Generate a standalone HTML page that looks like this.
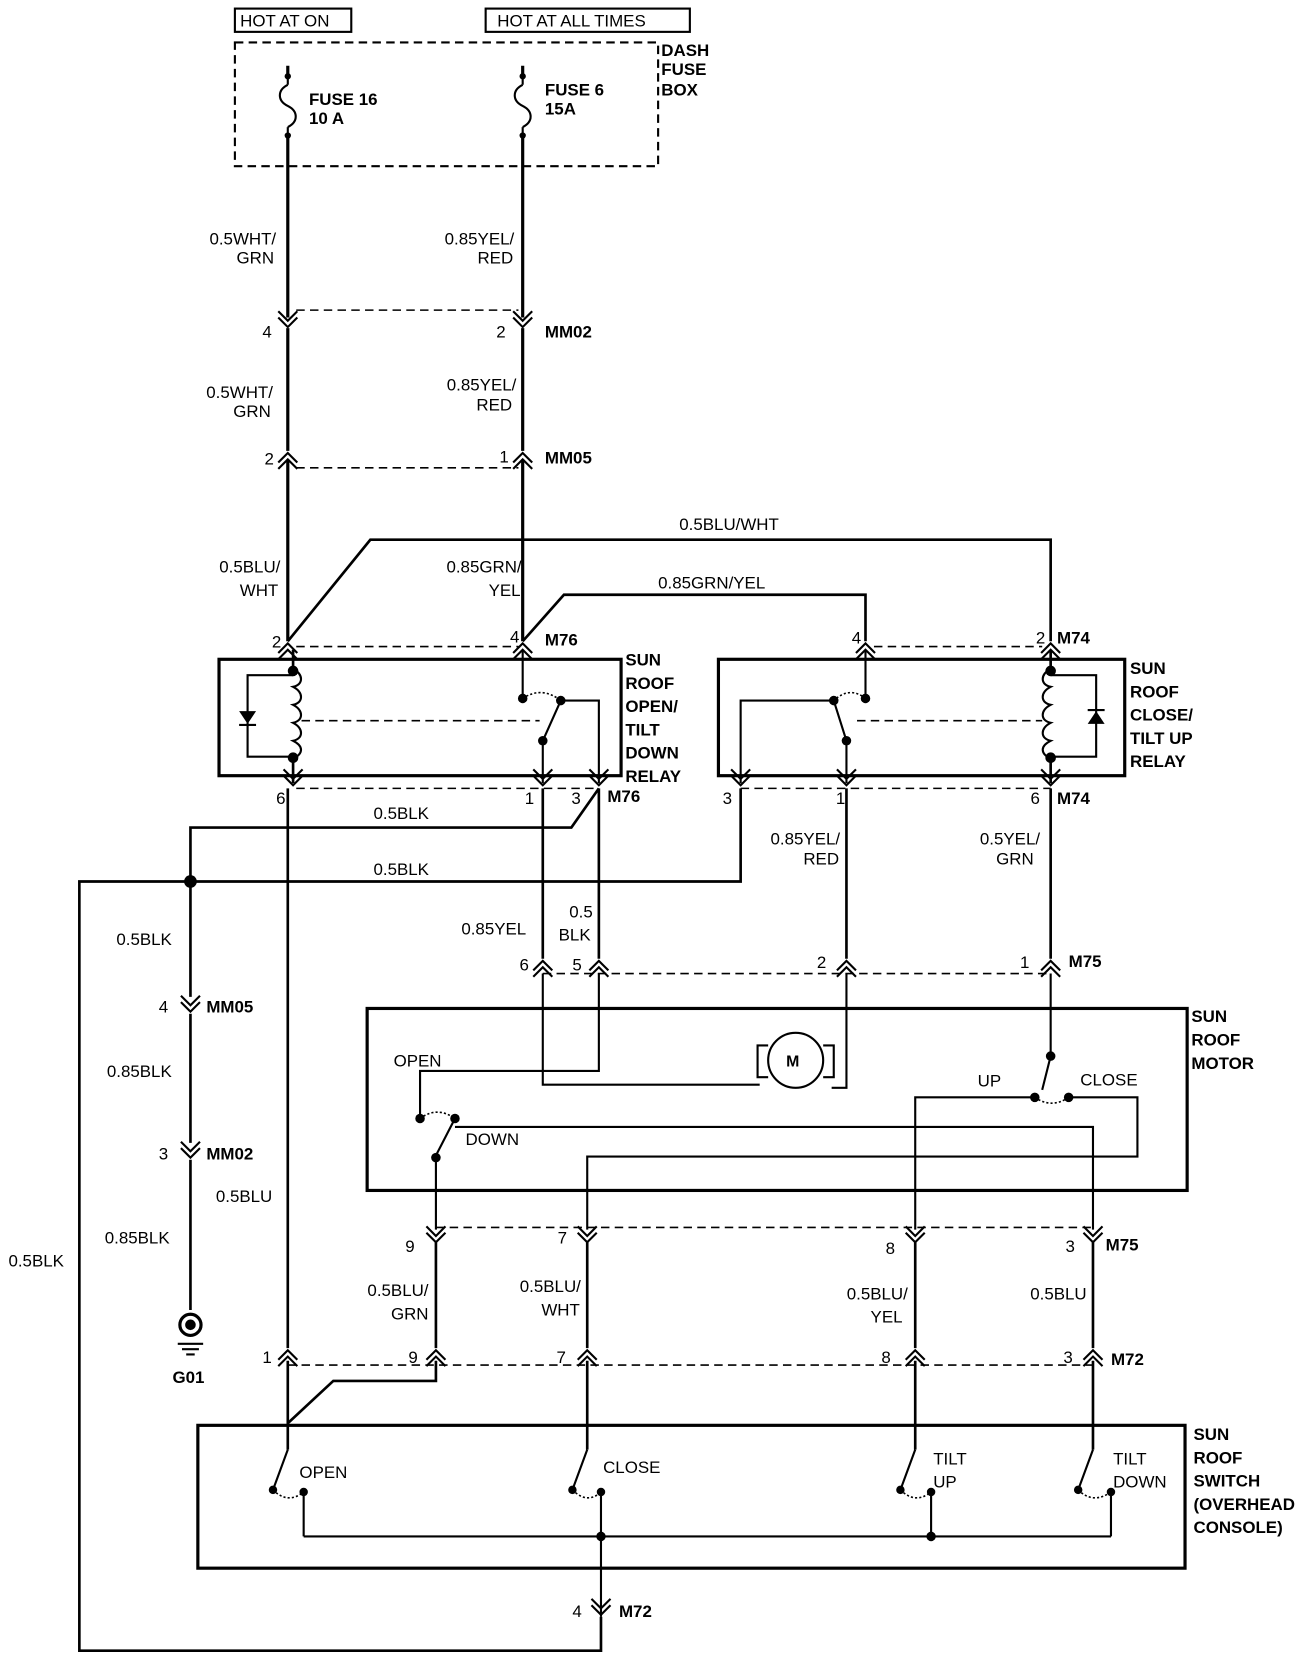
<!DOCTYPE html>
<html><head><meta charset="utf-8"><style>
html,body{margin:0;padding:0;background:#fff;}
svg{display:block;}
text{font-family:"Liberation Sans",Arial,sans-serif;font-size:16px;fill:#000;}
.b{font-weight:bold;}
.r{text-anchor:end;}
</style></head><body>
<svg width="1312" height="1654" viewBox="0 0 1240 1563" xmlns="http://www.w3.org/2000/svg">
<defs>
<g id="up"><path d="M-9,5 L0,-4 L9,5 M-9,11 L0,2 L9,11" fill="none" stroke="#000" stroke-width="2"/></g>
<g id="dn"><path d="M-9,-5 L0,4 L9,-5 M-9,-11 L0,-2 L9,-11" fill="none" stroke="#000" stroke-width="2"/></g>
</defs>
<g fill="none" stroke="#000" stroke-width="3">
<!-- header boxes -->
<rect x="222" y="8" width="110" height="22" stroke-width="2"/>
<rect x="459" y="8" width="193" height="22" stroke-width="2"/>
<rect x="222" y="40" width="400" height="117" stroke-width="2" stroke-dasharray="8,5"/>
<!-- fuse wires -->
<path d="M272,62 V74 M272,126 V300 M494,62 V74 M494,126 V300"/>
<path d="M272,80 c-10,5 -10,15 0,20 c10,5 10,15 0,20" stroke-width="2"/>
<path d="M494,80 c-10,5 -10,15 0,20 c10,5 10,15 0,20" stroke-width="2"/>
<path d="M272,74 V80 M272,120 V126 M494,74 V80 M494,120 V126" stroke-width="2"/>
<!-- between MM02 and MM05 -->
<path d="M272,310 V426 M494,310 V426"/>
<path d="M272,434 V606 M494,434 V606"/>
<!-- BLU/WHT and GRN/YEL -->
<path d="M272,606 L350,510 H993 V606" stroke-width="2.5"/>
<path d="M494,606 L533,562 H818 V606" stroke-width="2.5"/>
<!-- relay boxes -->
<rect x="207" y="623" width="380" height="110"/>
<rect x="679" y="623" width="384" height="110"/>
<!-- relay1 internals -->
<path d="M277,614 V632 M277,718 V740" stroke-width="2.5"/>
<path d="M277,632 c10,5 10,15 0,17 c10,5 10,15 0,17 c10,5 10,15 0,17 c10,5 10,15 0,17 c10,5 10,12 0,17" stroke-width="2"/>
<path d="M277,638 H234 V715 H277" stroke-width="2"/>
<path d="M494,614 V660 M513,700 L530,662 M530,662 H566 V740 M513,700 V740" stroke-width="2"/>
<path d="M494,660 Q512,648 530,662" stroke-width="1.5" stroke-dasharray="2,2"/>
<path d="M285,681 H510" stroke-width="1.5" stroke-dasharray="8,5"/>
<!-- relay2 internals -->
<path d="M993,614 V632 M993,718 V740" stroke-width="2.5"/>
<path d="M993,632 c-10,5 -10,15 0,17 c-10,5 -10,15 0,17 c-10,5 -10,15 0,17 c-10,5 -10,15 0,17 c-10,5 -10,12 0,17" stroke-width="2"/>
<path d="M993,638 H1036 V715 H993" stroke-width="2"/>
<path d="M818,614 V660 M800,700 L788,662 M788,662 H700 V740 M800,700 V740" stroke-width="2"/>
<path d="M818,660 Q803,648 788,662" stroke-width="1.5" stroke-dasharray="2,2"/>
<path d="M810,681 H985" stroke-width="1.5" stroke-dasharray="8,5"/>
<!-- dashed connector lines -->
<g stroke-width="1.5" stroke-dasharray="8,5">
<path d="M280,293 H490"/><path d="M280,442 H490"/>
<path d="M280,611 H490"/><path d="M826,611 H985"/>
<path d="M280,745 H566"/><path d="M700,745 H993"/>
<path d="M513,920 H993"/>
<path d="M412,1160 H1033"/>
<path d="M272,1290 H1033"/>
</g>
<!-- black grounds -->
<path d="M566,745 L540,782 H180 V942 M180,958 V1080 M180,1096 V1238" stroke-width="2.5"/>
<path d="M700,745 V833 H75 V1560 H568 V1528" stroke-width="2.5"/>
<!-- main wires from relays -->
<path d="M272,745 V1274" stroke-width="2.5"/>
<path d="M513,745 V906 M566,745 V906 M800,745 V906 M993,745 V906" stroke-width="2.5"/>
<!-- motor internals -->
<rect x="347" y="953" width="775" height="172"/>
<path d="M513,920 V1025 H718 M566,920 V1012 H397 V1057 M786,1028 H800 V920 M993,920 V998 L985,1030" stroke-width="2"/>
<circle cx="752" cy="1002" r="26" stroke-width="2"/>
<path d="M726,988 H716 V1018 H726 M778,988 H788 V1018 H778" stroke-width="2"/>
<path d="M412,1092 L430,1057 M430,1065 H1033 V1162 M412,1092 V1162" stroke-width="2"/>
<path d="M397,1057 Q413,1045 430,1057" stroke-width="1.5" stroke-dasharray="2,2"/>
<path d="M1010,1037 H1075 V1093 H555 V1162 M978,1037 H865 V1162" stroke-width="2"/>
<path d="M978,1037 Q994,1048 1010,1037" stroke-width="1.5" stroke-dasharray="2,2"/>
<!-- M75->M72 wires -->
<path d="M412,1174 V1274 M555,1174 V1274 M865,1174 V1274 M1033,1174 V1274" stroke-width="2.5"/>
<path d="M412,1286 V1305 H315 L272,1345" stroke-width="2.5"/>
<path d="M272,1286 V1370 M555,1286 V1370 M865,1286 V1370 M1033,1286 V1370" stroke-width="2.5"/>
<!-- switch box -->
<rect x="187" y="1347" width="933" height="135"/>
<g stroke-width="2">
<path d="M272,1370 L258,1408 M555,1370 L541,1408 M865,1370 L851,1408 M1033,1370 L1019,1408"/>
<path d="M287,1410 V1452 M568,1410 V1528 M880,1410 V1452 M1050,1410 V1452 M287,1452 H1050"/>
</g>
<g stroke-width="1.5" stroke-dasharray="2,2">
<path d="M258,1408 Q272,1422 287,1410"/><path d="M541,1408 Q555,1422 568,1410"/>
<path d="M851,1408 Q865,1422 880,1410"/><path d="M1019,1408 Q1033,1422 1050,1410"/>
</g>
<!-- ground symbol -->
<circle cx="180" cy="1252" r="10" stroke-width="3"/>
<path d="M168,1270 H192 M172,1275 H188 M176,1280 H184" stroke-width="2"/>
</g>
<g fill="#000">
<circle cx="272" cy="72" r="3"/><circle cx="272" cy="128" r="3"/>
<circle cx="494" cy="72" r="3"/><circle cx="494" cy="128" r="3"/>
<circle cx="277" cy="634" r="5"/><circle cx="277" cy="716" r="5"/>
<circle cx="993" cy="634" r="5"/><circle cx="993" cy="716" r="5"/>
<circle cx="494" cy="660" r="4.5"/><circle cx="530" cy="662" r="4.5"/><circle cx="513" cy="700" r="4.5"/>
<circle cx="818" cy="660" r="4.5"/><circle cx="788" cy="662" r="4.5"/><circle cx="800" cy="700" r="4.5"/>
<path d="M226,672 H242 L234,684 Z"/><path d="M1028,684 H1044 L1036,672 Z"/>
<path d="M226,685 H242" stroke="#000" stroke-width="2"/><path d="M1028,671 H1044" stroke="#000" stroke-width="2"/>
<circle cx="180" cy="833" r="6"/>
<circle cx="397" cy="1057" r="4.5"/><circle cx="430" cy="1057" r="4.5"/><circle cx="412" cy="1094" r="4.5"/>
<circle cx="993" cy="998" r="4.5"/><circle cx="978" cy="1037" r="4.5"/><circle cx="1010" cy="1037" r="4.5"/>
<circle cx="258" cy="1408" r="4"/><circle cx="287" cy="1410" r="4"/>
<circle cx="541" cy="1408" r="4"/><circle cx="568" cy="1410" r="4"/>
<circle cx="851" cy="1408" r="4"/><circle cx="880" cy="1410" r="4"/>
<circle cx="1019" cy="1408" r="4"/><circle cx="1050" cy="1410" r="4"/>
<circle cx="568" cy="1452" r="4.5"/><circle cx="880" cy="1452" r="4.5"/>
<circle cx="180" cy="1252" r="5"/>
</g>
<!-- connectors -->
<use href="#dn" x="272" y="305"/><use href="#dn" x="494" y="305"/>
<use href="#up" x="272" y="432"/><use href="#up" x="494" y="432"/>
<use href="#up" x="272" y="612"/><use href="#up" x="494" y="612"/><use href="#up" x="818" y="612"/><use href="#up" x="993" y="612"/>
<use href="#dn" x="277" y="738"/><use href="#dn" x="513" y="738"/><use href="#dn" x="566" y="738"/>
<use href="#dn" x="700" y="738"/><use href="#dn" x="800" y="738"/><use href="#dn" x="993" y="738"/>
<use href="#up" x="513" y="912"/><use href="#up" x="566" y="912"/><use href="#up" x="800" y="912"/><use href="#up" x="993" y="912"/>
<use href="#dn" x="180" y="952"/><use href="#dn" x="180" y="1090"/>
<use href="#dn" x="412" y="1170"/><use href="#dn" x="555" y="1170"/><use href="#dn" x="865" y="1170"/><use href="#dn" x="1033" y="1170"/>
<use href="#up" x="272" y="1280"/><use href="#up" x="412" y="1280"/><use href="#up" x="555" y="1280"/><use href="#up" x="865" y="1280"/><use href="#up" x="1033" y="1280"/>
<use href="#dn" x="568" y="1522"/>
<!-- text -->
<text x="227" y="25">HOT AT ON</text>
<text x="470" y="25">HOT AT ALL TIMES</text>
<text class="b" x="625" y="53">DASH</text><text class="b" x="625" y="71">FUSE</text><text class="b" x="625" y="90">BOX</text>
<text class="b" x="292" y="99">FUSE 16</text><text class="b" x="292" y="117">10 A</text>
<text class="b" x="515" y="90">FUSE 6</text><text class="b" x="515" y="108">15A</text>
<text class="r" x="261" y="231">0.5WHT/</text><text class="r" x="259" y="249">GRN</text>
<text class="r" x="486" y="231">0.85YEL/</text><text class="r" x="485" y="249">RED</text>
<text x="248" y="319">4</text><text x="469" y="319">2</text><text class="b" x="515" y="319">MM02</text>
<text class="r" x="258" y="376">0.5WHT/</text><text class="r" x="256" y="394">GRN</text>
<text class="r" x="488" y="369">0.85YEL/</text><text class="r" x="484" y="388">RED</text>
<text x="250" y="439">2</text><text x="472" y="437">1</text><text class="b" x="515" y="438">MM05</text>
<text x="642" y="501">0.5BLU/WHT</text>
<text class="r" x="265" y="541">0.5BLU/</text><text class="r" x="263" y="563">WHT</text>
<text class="r" x="493" y="541">0.85GRN/</text><text class="r" x="492" y="563">YEL</text>
<text x="622" y="556">0.85GRN/YEL</text>
<text x="257" y="612">2</text><text x="482" y="607">4</text><text class="b" x="515" y="610">M76</text>
<text x="805" y="608">4</text><text x="979" y="608">2</text><text class="b" x="999" y="608">M74</text>
<g class="b"><text class="b" x="591" y="629">SUN</text><text class="b" x="591" y="651">ROOF</text><text class="b" x="591" y="673">OPEN/</text><text class="b" x="591" y="695">TILT</text><text class="b" x="591" y="717">DOWN</text><text class="b" x="591" y="739">RELAY</text></g>
<text class="b" x="1068" y="637">SUN</text><text class="b" x="1068" y="659">ROOF</text><text class="b" x="1068" y="681">CLOSE/</text><text class="b" x="1068" y="703">TILT UP</text><text class="b" x="1068" y="725">RELAY</text>
<text x="261" y="760">6</text><text x="496" y="760">1</text><text x="540" y="760">3</text><text class="b" x="574" y="758">M76</text>
<text x="683" y="760">3</text><text x="790" y="760">1</text><text x="974" y="760">6</text><text class="b" x="999" y="760">M74</text>
<text x="353" y="774">0.5BLK</text>
<text x="353" y="827">0.5BLK</text>
<text class="r" x="794" y="798">0.85YEL/</text><text class="r" x="793" y="817">RED</text>
<text class="r" x="983" y="798">0.5YEL/</text><text class="r" x="977" y="817">GRN</text>
<text x="110" y="893">0.5BLK</text>
<text x="436" y="883">0.85YEL</text>
<text x="538" y="867">0.5</text><text x="528" y="889">BLK</text>
<text x="491" y="917">6</text><text x="541" y="917">5</text><text x="772" y="915">2</text><text x="964" y="915">1</text><text class="b" x="1010" y="914">M75</text>
<text x="150" y="957">4</text><text class="b" x="195" y="957">MM05</text>
<text class="b" x="1126" y="966">SUN</text><text class="b" x="1126" y="988">ROOF</text><text class="b" x="1126" y="1010">MOTOR</text>
<text x="372" y="1008">OPEN</text>
<text class="b" x="743" y="1008" style="font-size:15px">M</text>
<text x="924" y="1027">UP</text><text x="1021" y="1026">CLOSE</text>
<text x="440" y="1082">DOWN</text>
<text x="101" y="1018">0.85BLK</text>
<text x="150" y="1096">3</text><text class="b" x="195" y="1096">MM02</text>
<text x="204" y="1136">0.5BLU</text>
<text x="99" y="1175">0.85BLK</text>
<text x="383" y="1183">9</text><text x="527" y="1175">7</text><text x="837" y="1185">8</text><text x="1007" y="1183">3</text><text class="b" x="1045" y="1182">M75</text>
<text x="8" y="1197">0.5BLK</text>
<text class="r" x="405" y="1225">0.5BLU/</text><text class="r" x="405" y="1247">GRN</text>
<text class="r" x="549" y="1221">0.5BLU/</text><text class="r" x="548" y="1243">WHT</text>
<text class="r" x="858" y="1228">0.5BLU/</text><text class="r" x="853" y="1250">YEL</text>
<text class="r" x="1027" y="1228">0.5BLU</text>
<text x="248" y="1288">1</text><text x="386" y="1288">9</text><text x="526" y="1288">7</text><text x="833" y="1288">8</text><text x="1005" y="1288">3</text><text class="b" x="1050" y="1290">M72</text>
<text class="b" x="163" y="1307">G01</text>
<text class="b" x="1128" y="1361">SUN</text><text class="b" x="1128" y="1383">ROOF</text><text class="b" x="1128" y="1405">SWITCH</text><text class="b" x="1128" y="1427">(OVERHEAD</text><text class="b" x="1128" y="1449">CONSOLE)</text>
<text x="283" y="1397">OPEN</text><text x="570" y="1392">CLOSE</text>
<text x="882" y="1384">TILT</text><text x="882" y="1406">UP</text>
<text x="1052" y="1384">TILT</text><text x="1052" y="1406">DOWN</text>
<text x="541" y="1528">4</text><text class="b" x="585" y="1528">M72</text>
</svg>
</body></html>
